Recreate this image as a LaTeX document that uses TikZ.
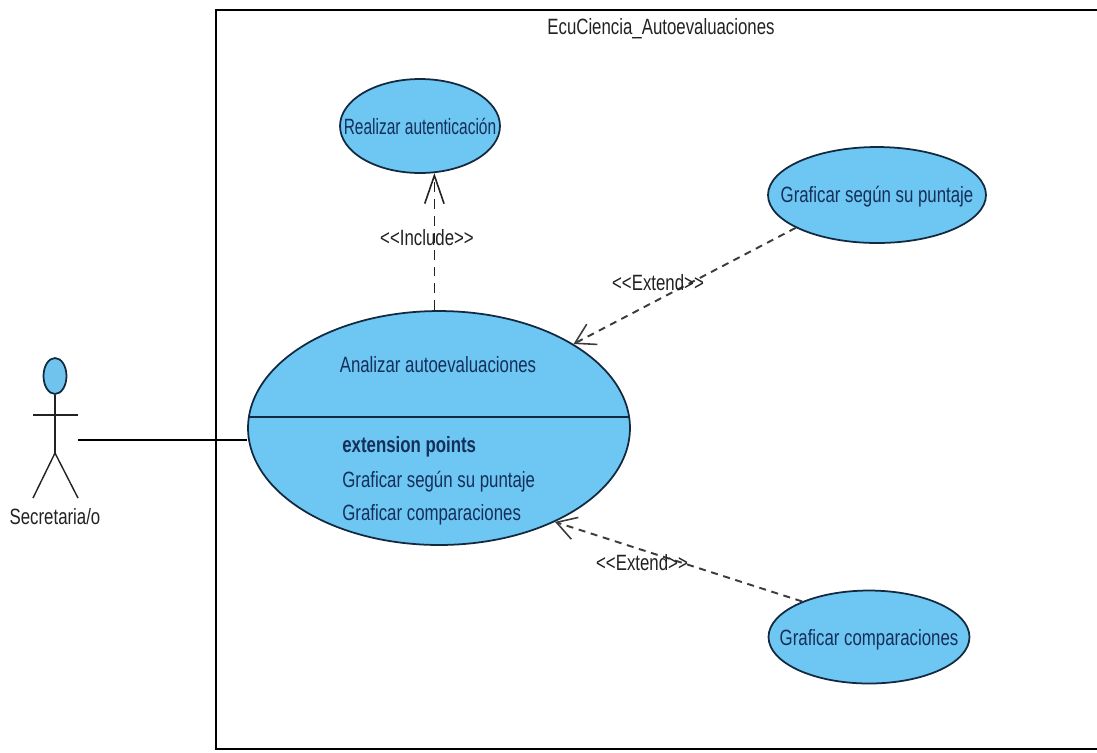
\documentclass[tikz,border=0pt]{standalone}
\usepackage{fontspec}
\setmainfont[FakeStretch=0.76]{Liberation Sans}
\newfontfamily\tightfont[FakeStretch=0.70]{Liberation Sans}
\usetikzlibrary{arrows.meta,shapes.geometric}
\definecolor{usefill}{HTML}{6EC6F2}
\definecolor{useline}{HTML}{12293F}
\definecolor{usetext}{HTML}{14305A}
\definecolor{headfill}{HTML}{6FC3EC}
\definecolor{labeltext}{HTML}{222222}
\definecolor{depline}{HTML}{3C3C3C}
\tikzset{
  usecase/.style={shape=ellipse, draw=useline, fill=usefill, line width=1pt, inner sep=0pt},
  usename/.style={text=usetext, font=\fontsize{12.6}{14}\selectfont, inner sep=0pt},
  stereo/.style={text=labeltext, font=\fontsize{12.6}{14}\selectfont, inner sep=0pt},
  dep/.style={draw=depline, line width=1.1pt, dash pattern=on 4pt off 3.2pt, -{Straight Barb[length=11pt, width=13pt, line width=0.9pt]}},
  incl/.style={draw=labeltext, line width=0.9pt, dash pattern=on 5.6pt off 4pt, -{Straight Barb[length=16pt, width=11pt, line width=0.9pt]}},
  limb/.style={draw=labeltext, line width=0.8pt},
}

\begin{document}
\begin{tikzpicture}[x=0.02cm, y=-0.02cm]
    \clip (0,0) rectangle (1097,752);
    \node at (663,379.5) (system) [shape=rectangle, draw=black, line width=0.8pt, minimum width=17.88cm, minimum height=14.78cm] {};
    \node at (661,29) (title) [stereo] {EcuCiencia\_Autoevaluaciones};

    \node at (420,126) (auth) [usecase, minimum width=3.2cm, minimum height=1.88cm, label={[usename]center:\tightfont Realizar autenticación}] {};
    \node at (877,195) (score) [usecase, minimum width=4.36cm, minimum height=1.92cm, label={[usename, yshift=-1pt]center:Graficar según su puntaje}] {};
    \node at (869,637) (compare) [usecase, minimum width=4.02cm, minimum height=1.86cm, label={[usename, yshift=-1.5pt]center:Graficar comparaciones}] {};
    \node at (439,428) (analyze) [usecase, minimum width=7.64cm, minimum height=4.68cm] {};
    \coordinate (splitl) at (249,417);
    \coordinate (splitr) at (629,417);
    \draw[useline, line width=1pt] (splitl) -- (splitr);

    \node at (438,365) (analyzename) [usename] {Analizar autoevaluaciones};
    \node at (342,447) (extpoints) [usename, anchor=west] {\bfseries extension points};
    \node at (342,482) (extscore) [usename, anchor=west] {Graficar según su puntaje};
    \node at (342,515) (extcompare) [usename, anchor=west] {Graficar comparaciones};

    % actor
    \node at (55,376) (head) [shape=ellipse, draw=useline, fill=headfill, line width=1pt, inner sep=0pt, minimum width=0.46cm, minimum height=0.72cm] {};
    \coordinate (hip) at (55,453);
    \coordinate (handl) at (33,415);
    \coordinate (handr) at (78,415);
    \coordinate (footl) at (33,498);
    \coordinate (footr) at (78,498);
    \coordinate (grip) at (78,440);
    \draw[limb] (head.south) -- (hip);
    \draw[limb] (handl) -- (handr);
    \draw[limb] (footl) -- (hip) -- (footr);
    \node at (55,517) (actor) [stereo] {Secretaria/o};

    \draw[draw=black, line width=1.2pt] (grip) -- (grip -| analyze.west);

    \draw[incl] (analyze.north -| auth.-73) -- (auth.-73);
    \draw[dep] (score.-158) -- (analyze.32);
    \draw[dep] (compare.152) -- (analyze.-39.6);

    \node at (427,238) (include) [stereo] {<{}<Include>{}>};
    \node at (658,283) (extendscore) [stereo] {<{}<Extend>{}>};
    \node at (642,563) (extendcompare) [stereo] {<{}<Extend>{}>};
  \end{tikzpicture}
\end{document}
